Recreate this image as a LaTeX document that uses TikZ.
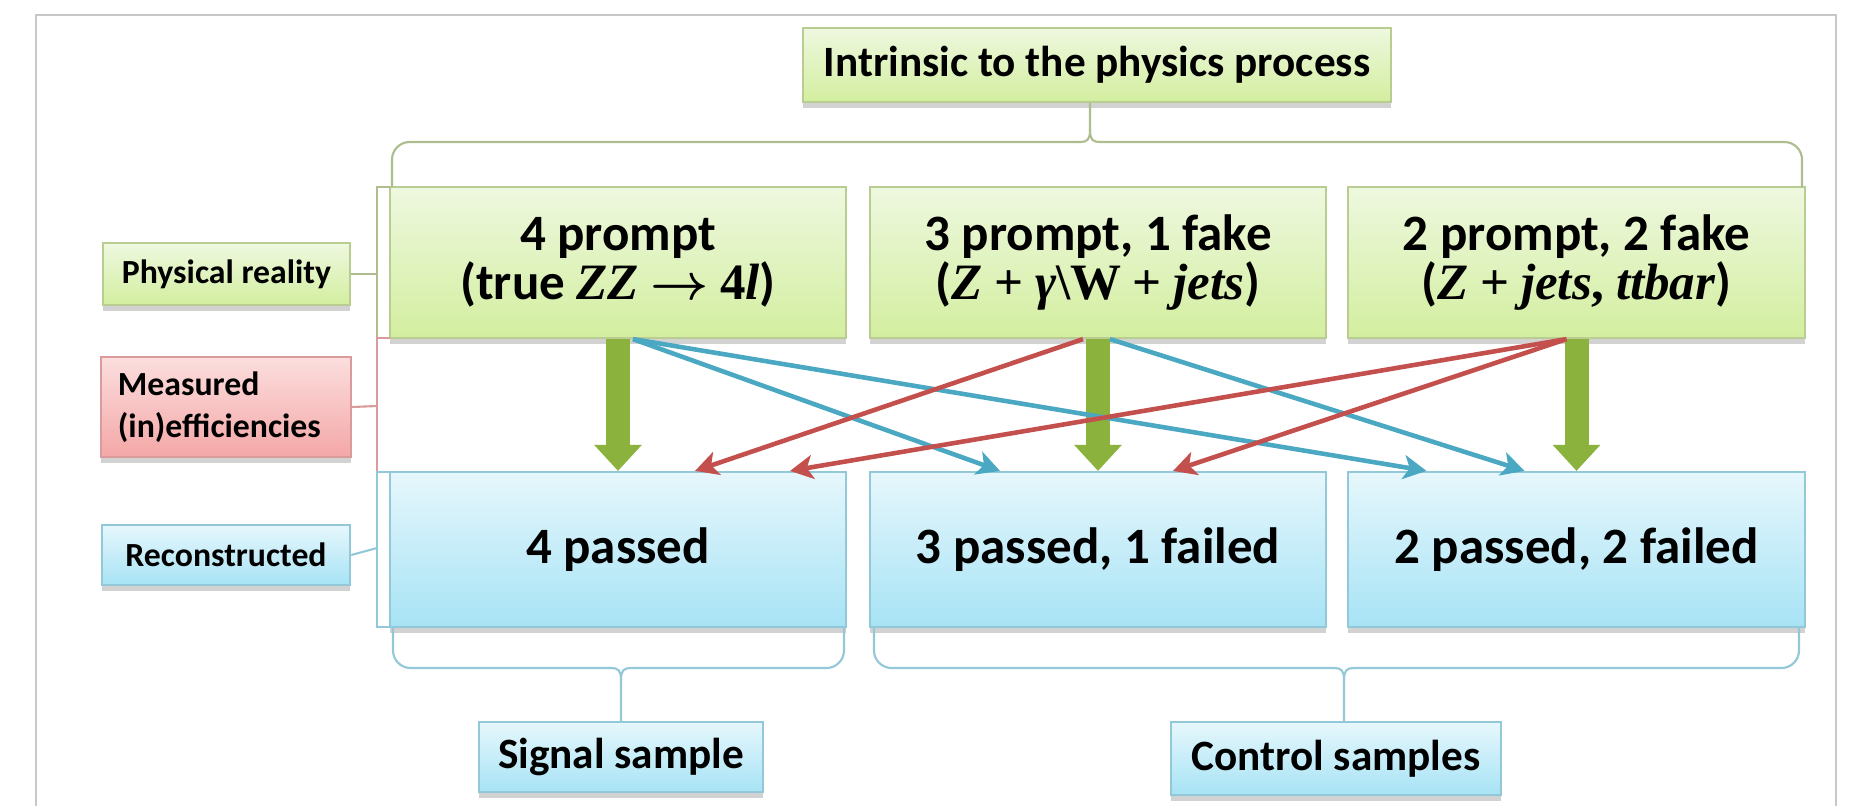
\documentclass[tikz,border=0pt]{standalone}
\usepackage{fontspec}
\setmainfont{Carlito}
\newfontfamily\mathfont{Liberation Serif}
\usetikzlibrary{calc,shadows,arrows.meta}

\definecolor{gtop}{HTML}{EEF8DF}
\definecolor{gbot}{HTML}{D3EE9F}
\definecolor{gline}{HTML}{B9CC92}
\definecolor{btop}{HTML}{E6F7FC}
\definecolor{bbot}{HTML}{A7E3F5}
\definecolor{bline}{HTML}{93C8D8}
\definecolor{rtop}{HTML}{FCDEDE}
\definecolor{rbot}{HTML}{F4A7A7}
\definecolor{rline}{HTML}{D99B9B}
\definecolor{arrgreen}{HTML}{8AB23C}
\definecolor{arrteal}{HTML}{4AA8C2}
\definecolor{arrred}{HTML}{C4504E}
\definecolor{framegray}{HTML}{C8C8C8}

% italic "math" letters and upright math symbols
\newcommand{\mv}[1]{{\mathfont\bfseries\itshape #1}}
\newcommand{\ms}[1]{{\mathfont\bfseries #1}}
\newcommand{\bigfont}{\fontsize{14.5}{17.5}\selectfont\bfseries}
\newcommand{\midfont}{\fontsize{12.3}{14}\selectfont\bfseries}
\newcommand{\smallfont}{\fontsize{9.6}{11.5}\selectfont\bfseries}

\tikzset{
  boxshadow/.style={drop shadow={shadow xshift=0pt,shadow yshift=-1.6pt,opacity=0.35}},
  gbox/.style={draw=gline, line width=0.6pt, top color=gtop, bottom color=gbot,
    boxshadow, inner sep=0pt, align=center},
  bbox/.style={draw=bline, line width=0.6pt, top color=btop, bottom color=bbot,
    boxshadow, inner sep=0pt, align=center},
  rbox/.style={draw=rline, line width=0.6pt, top color=rtop, bottom color=rbot,
    boxshadow, inner sep=0pt, align=left},
  thickarrow/.style={draw=arrgreen, line width=2.4mm,
    -{Triangle[length=2.6mm,width=4.6mm]}},
  tealarrow/.style={draw=arrteal, line width=1.3pt,
    -{Stealth[length=2.3mm,width=2.4mm,inset=0.6mm]}},
  redarrow/.style={draw=arrred, line width=1.3pt,
    -{Stealth[length=2.3mm,width=2.4mm,inset=0.6mm]}},
  greenbrace/.style={draw=gline!80!gray, line width=0.6pt, rounded corners=5},
  bluebrace/.style={draw=bline, line width=0.6pt, rounded corners=5},
  redbrace/.style={draw=rline, line width=0.6pt},
}

\begin{document}
\begin{tikzpicture}[x=0.01cm,y=-0.01cm]
\useasboundingbox (0,0) rectangle (1855,805);
\fill[white] (0,0) rectangle (1855,805);
\draw[framegray, line width=0.8pt] (36,830) -- (36,15) -- (1836,15) -- (1836,830);

% title box
\node[gbox, minimum width=5.88cm, minimum height=0.74cm] (intr) at (1097,65)
  {\midfont Intrinsic to the physics process};

% physical reality row
\node[gbox, minimum width=4.56cm, minimum height=1.51cm] (g1) at (618,262.5)
  {\bigfont 4 prompt\\ \bigfont (true \mv{ZZ} {\boldmath$\rightarrow$} \ms{4}\mv{l})};
\node[gbox, minimum width=4.56cm, minimum height=1.51cm] (g2) at (1098,262.5)
  {\bigfont 3 prompt, 1 fake\\ \bigfont (\mv{Z} \ms{+} \mv{γ}{\mathfont\textbackslash W} \ms{+} \mv{jets})};
\node[gbox, minimum width=4.56cm, minimum height=1.51cm] (g3) at (1576.5,262.5)
  {\bigfont 2 prompt, 2 fake\\ \bigfont (\mv{Z} \ms{+} \mv{jets}\ms{,} \mv{ttbar})};

% reconstructed row
\node[bbox, minimum width=4.56cm, minimum height=1.55cm] (b1) at (618,549.5)
  {\bigfont 4 passed};
\node[bbox, minimum width=4.56cm, minimum height=1.55cm] (b2) at (1098,549.5)
  {\bigfont 3 passed, 1 failed};
\node[bbox, minimum width=4.56cm, minimum height=1.55cm] (b3) at (1576.5,549.5)
  {\bigfont 2 passed, 2 failed};

% row labels
\node[gbox, minimum width=2.47cm, minimum height=0.62cm] (phys) at (226.5,274)
  {\smallfont Physical reality};
\node[rbox, minimum width=2.49cm, minimum height=1.0cm, text width=2.16cm] (meas) at (226,407)
  {\smallfont Measured\\ \smallfont (in)efficiencies};
\node[bbox, minimum width=2.48cm, minimum height=0.6cm] (reco) at (226,555)
  {\smallfont Reconstructed};

% sample labels
\node[bbox, minimum width=2.84cm, minimum height=0.70cm] (sig) at (621,757)
  {\midfont Signal sample};
\node[bbox, minimum width=3.30cm, minimum height=0.73cm] (ctl) at (1336,758.5)
  {\midfont Control samples};

% brace over the top row
\draw[greenbrace] (392,187) -- (392,142) -- (1080,142);
\draw[greenbrace] (1100,142) -- (1802,142) -- (1802,187);
\draw[draw=gline!80!gray, line width=0.6pt] (1080,142) .. controls (1087,142) and (1090,140) .. (1090,130) -- (intr.south -| 1090,0);
\draw[draw=gline!80!gray, line width=0.6pt] (1100,142) .. controls (1093,142) and (1090,140) .. (1090,130);

% braces under the bottom row
\draw[bluebrace] (393,627) -- (393,668) -- (611,668);
\draw[bluebrace] (631,668) -- (844,668) -- (844,627);
\draw[draw=bline, line width=0.6pt] (611,668) .. controls (618,668) and (621,670) .. (621,680) -- (sig.north);
\draw[draw=bline, line width=0.6pt] (631,668) .. controls (624,668) and (621,670) .. (621,680);

\draw[bluebrace] (874,627) -- (874,668) -- (1334,668);
\draw[bluebrace] (1354,668) -- (1799,668) -- (1799,627);
\draw[draw=bline, line width=0.6pt] (1334,668) .. controls (1341,668) and (1344,670) .. (1344,680) -- (1344,722);
\draw[draw=bline, line width=0.6pt] (1354,668) .. controls (1347,668) and (1344,670) .. (1344,680);

% brackets joining the row labels
\draw[draw=gline!80!gray, line width=0.6pt] (390,187) -- (377,187) -- (377,338) -- (390,338);
\draw[draw=gline!80!gray, line width=0.6pt] (phys.east) -- (377,274);
\draw[redbrace] (390,338) -- (377,338) -- (377,472) -- (390,472);
\draw[redbrace] (meas.east) -- (377,406);
\draw[draw=bline, line width=0.6pt] (390,472) -- (377,472) -- (377,627) -- (390,627);
\draw[draw=bline, line width=0.6pt] (reco.east) -- (377,548);

% direct transitions
\draw[thickarrow] (g1.south) -- (b1.north);
\draw[thickarrow] (g2.south) -- (b2.north);
\draw[thickarrow] (g3.south) -- (b3.north);

% migrations towards more failed leptons
\draw[tealarrow] ($(g1.south)+(15,0)$) -- ($(b2.north)+(-98,0)$);
\draw[tealarrow] ($(g1.south)+(15,0)$) -- ($(b3.north)+(-150,0)$);
\draw[tealarrow] ($(g2.south)+(12,0)$) -- ($(b3.north)+(-52,0)$);

% migrations towards more passed leptons
\draw[redarrow] ($(g2.south)+(-15,0)$) -- ($(b1.north)+(77,0)$);
\draw[redarrow] ($(g3.south)+(-10,0)$) -- ($(b1.north)+(172,0)$);
\draw[redarrow] ($(g3.south)+(-10,0)$) -- ($(b2.north)+(75,0)$);
\end{tikzpicture}
\end{document}
